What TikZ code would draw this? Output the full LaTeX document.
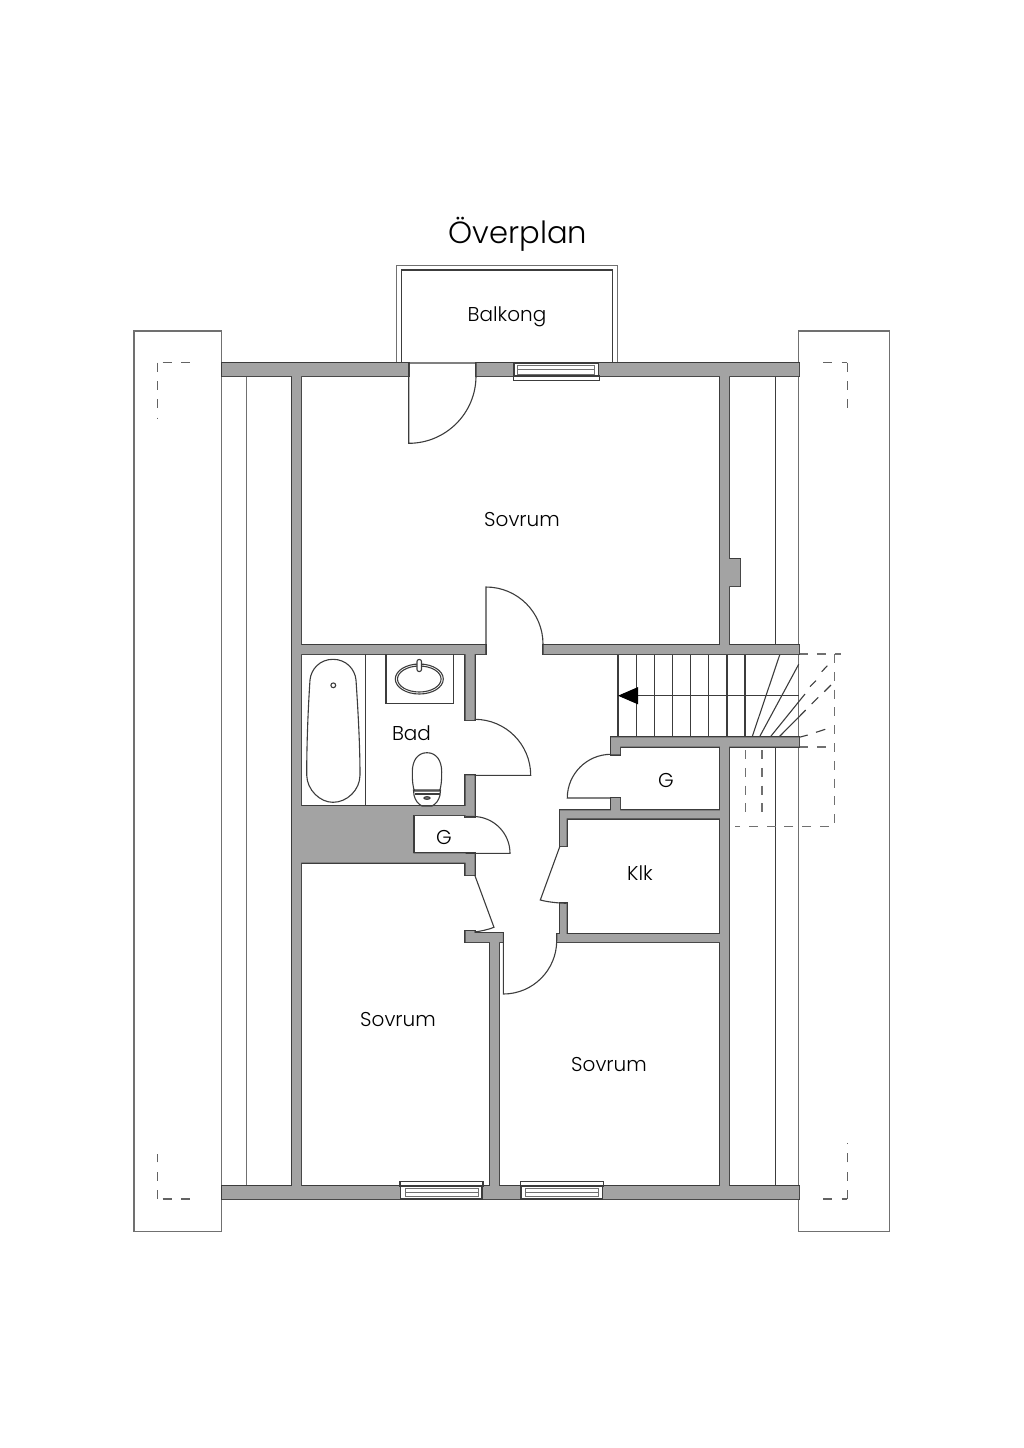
\documentclass[tikz,border=0pt]{standalone}
\usepackage{fontspec}
\setmainfont{Poppins}[UprightFont=* Light]
\usetikzlibrary{arrows.meta}
\definecolor{wallgrey}{HTML}{A3A3A3}
\definecolor{walledge}{HTML}{3C3C3C}
\definecolor{roofedge}{HTML}{707070}
% all walls, as rectangles from top left to bottom right
\newcommand{\wallparts}{
  (222,363) rectangle (409,376) (476,363) rectangle (514,376) (598,363) rectangle (799,376)
  (222,1186) rectangle (400.7,1199) (482,1186) rectangle (521,1199) (603,1186) rectangle (799,1199)
  (292,376) rectangle (301,1186) (720,376) rectangle (729,654) (720,737.3) rectangle (729,1186) (729,559) rectangle (740,586)
  (301,645) rectangle (485.5,654) (543,645) rectangle (799,654)
  (465.5,654) rectangle (474.7,720) (465.5,775.3) rectangle (474.7,817)
  (301,806) rectangle (413.3,862.7) (413.3,806) rectangle (465.5,815)
  (413.3,853.3) rectangle (465.5,862.7) (465.5,853.3) rectangle (474.7,875)
  (465.5,931) rectangle (474.7,942) (474.7,933) rectangle (503,942) (490,942) rectangle (499,1186)
  (557,934) rectangle (720,942) (560,810.3) rectangle (566.7,846) (560,903) rectangle (566.7,934)
  (566.7,810.3) rectangle (720,818.3) (611,737.3) rectangle (620,754.3) (611,798) rectangle (620,810.3)
  (611,737.3) rectangle (799,746.7)
}
\tikzset{
  thinline/.style={draw=walledge, line width=0.55pt},
  roofline/.style={draw=roofedge, line width=0.7pt},
  paneline/.style={draw=roofedge, line width=0.4pt},
  hiddenline/.style={draw=roofedge, line width=0.7pt, dash pattern=on 4.5pt off 4.4pt},
  cornerline/.style={draw=walledge!80, line width=0.7pt, dash pattern=on 4.5pt off 4.65pt},
  label/.style={inner sep=0pt, font=\fontsize{10}{12}\selectfont}
}
\begin{document}
\begin{tikzpicture}[x=0.5pt, y=-0.5pt]
  \useasboundingbox (0,0) rectangle (1024,1448);
  % roof parts and balcony
  \draw[roofline] (134,331) rectangle (221.7,1231.7);
  \draw[roofline] (798.7,331) rectangle (889.3,1231.7);
  \draw[roofline] (396.7,363) -- (396.7,265.3) -- (617.3,265.3) -- (617.3,363);
  \draw[thinline] (401.3,363) -- (401.3,270) -- (612.7,270) -- (612.7,363);
  \draw[roofline] (246.7,376) -- (246.7,1186);
  \draw[thinline] (775.7,376) -- (775.7,645);
  \draw[thinline] (775.7,746.7) -- (775.7,1186);
  % corner marks
  \draw[cornerline] (162.7,362.7) -- (190,362.7);
  \draw[cornerline] (157.7,362.7) -- (157.7,418.4);
  \draw[cornerline] (823.3,362.7) -- (847.3,362.7);
  \draw[cornerline] (847.3,362.7) -- (847.3,408);
  \draw[cornerline] (162.7,1199) -- (190,1199);
  \draw[cornerline] (157.7,1199) -- (157.7,1154.3);
  \draw[cornerline] (823.3,1199) -- (847.3,1199);
  \draw[cornerline] (847.3,1199) -- (847.3,1143.4);
  % stairs
  \foreach \x in {618,636.7,654.7,672.7,690.7,708.7,727,745}
    \draw[thinline] (\x,654) -- (\x,737.3);
  \draw[thinline] (780,654) -- (752,737.3);
  \draw[thinline] (798.7,664.3) -- (759.3,737.3);
  \draw[thinline] (805,694) -- (770,737.3);
  \draw[thinline] (805.7,710) -- (778.7,737.3);
  \draw[thinline] (810,686.7) -- (816,680.7);
  \draw[thinline] (821.7,671.7) -- (827.3,665.7);
  \draw[thinline] (811.7,704) -- (818.3,697.3);
  \draw[thinline] (824.3,691.7) -- (831,685);
  \draw[thinline] (799.3,737.3) -- (807.7,735);
  \draw[thinline] (816,732.3) -- (825.3,729.3);
  \draw[thinline, -{Triangle[length=10pt, width=8.5pt, color=black]}] (798.7,695.7) -- (618,695.7);
  \draw[hiddenline] (799,654) -- (841,654);
  \draw[hiddenline] (834.3,654) -- (834.3,826.7) -- (735,826.7);
  \draw[hiddenline] (799,747) -- (826,747);
  \draw[hiddenline] (745.7,750) -- (745.7,814);
  \draw[hiddenline] (762,750) -- (762,814);
  % walls
  \draw[draw=walledge, line width=1.2pt] \wallparts;
  \fill[wallgrey] \wallparts;
  % windows
  \draw[thinline, fill=white] (513.3,376) rectangle (599.3,380.7);
  \draw[thinline, fill=white] (514,363) rectangle (598.3,376);
  \draw[paneline] (517.7,365) rectangle (594,374) (517.7,369.3) -- (594,369.3);
  \foreach \x in {400,520.3} {
    \draw[thinline, fill=white] (\x,1181.7) rectangle (\x+83,1186);
    \draw[thinline, fill=white] (\x+0.7,1186) rectangle (\x+82,1199);
    \draw[paneline] (\x+5,1188.3) rectangle (\x+78,1196) (\x+5,1192) -- (\x+78,1192);
  }
  % doors
  \draw[thinline] (476,363) -- (408.7,363) -- (408.7,443.3) arc[start angle=90, end angle=0, radius=67.3] -- (476,363);
  \draw[thinline] (486,654) -- (486,587) arc[start angle=-90, end angle=0, radius=57] -- (543,654);
  \draw[thinline] (474.7,775.3) -- (530.7,775.3) arc[start angle=0, end angle=-90, radius=56];
  \draw[thinline] (465.5,853.3) -- (510,853.3) arc[start angle=0, end angle=-90, radius=36.8] -- (465.5,816.5);
  \draw[thinline] (474.7,875) -- (494,927.3) .. controls (487,930) and (481,931) .. (474.7,932);
  \draw[thinline] (560,846) -- (540.3,900) .. controls (548,902) and (557,903) .. (566.7,903.3);
  \draw[thinline] (503.3,933) -- (503.3,994) arc[start angle=90, end angle=0, radius=53.4] -- (556.7,934);
  \draw[thinline] (611,798) -- (567.3,798) arc[start angle=180, end angle=270, radius=43.7];
  % closet in the solid wall
  \draw[thinline] (413.3,815) -- (413.3,853.3);
  % bath
  \draw[thinline] (365.3,654) -- (365.3,806);
  \draw[thinline] (333,659.3) .. controls (320,659.3) and (311,669) .. (310,680)
    .. controls (308,710) and (306.7,745) .. (306.7,775)
    .. controls (307,790) and (320,802.3) .. (333,802.3)
    .. controls (347,802.3) and (360,790) .. (360,775)
    .. controls (360,745) and (358,710) .. (356,680)
    .. controls (355,669) and (346,659.3) .. (333,659.3) -- cycle;
  \draw[thinline] (333.3,685.3) circle[radius=2.4];
  \draw[thinline] (386,654) -- (386,703.3) -- (453.3,703.3) -- (453.3,654);
  \draw[thinline] (419.3,679) ellipse[x radius=24, y radius=15];
  \draw[thinline] (419.3,679) ellipse[x radius=21.8, y radius=13];
  \draw[thinline, fill=white, rounded corners=1pt] (417,659.5) rectangle (421.5,671.5);
  \draw[thinline] (427,752.7) .. controls (418,752.7) and (412.3,760) .. (412.3,772)
    .. controls (412.3,782) and (413,787) .. (414.5,791) -- (439.5,791)
    .. controls (441,787) and (441.7,782) .. (441.7,772)
    .. controls (441.7,760) and (436,752.7) .. (427,752.7) -- cycle;
  \draw[thinline] (413.5,790) -- (440.5,790) -- (440,795) .. controls (439,800) and (436,804) .. (432,806)
    -- (422,806) .. controls (418,804) and (415,800) .. (414,795) -- cycle;
  \draw[thinline] (414.5,794) -- (439.5,794);
  \draw[thinline, fill=black!50] (427,798) ellipse[x radius=3, y radius=1.3];
  % labels
  \node[inner sep=0pt, font=\fontsize{15.3}{18}\selectfont] (overplan) at (518,234) {Överplan};
  \node[label] (balkong) at (507,317) {Balkong};
  \node[label] (sovrumtop) at (522,520) {Sovrum};
  \node[label] (bad) at (411.5,733) {Bad};
  \node[label] (gbad) at (444,837) {G};
  \node[label] (gstair) at (666,780) {G};
  \node[label] (klk) at (640,873) {Klk};
  \node[label] (sovrumleft) at (398,1019.5) {Sovrum};
  \node[label] (sovrumright) at (609,1065) {Sovrum};
\end{tikzpicture}
\end{document}
